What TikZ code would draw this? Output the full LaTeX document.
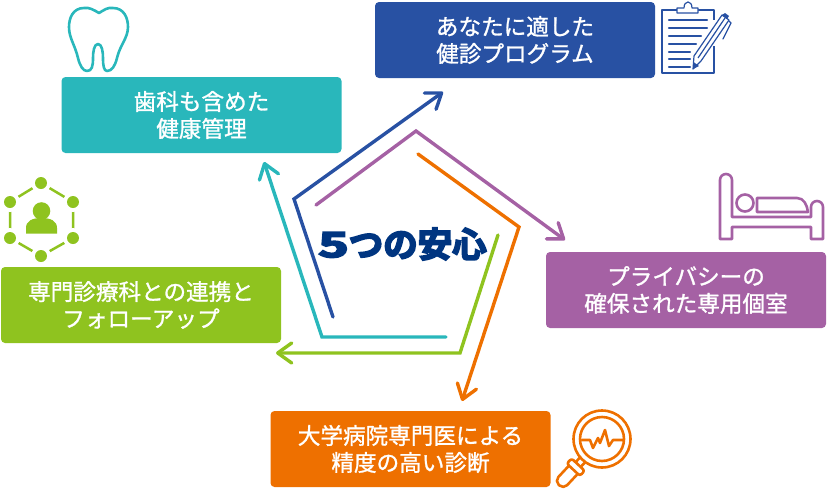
\documentclass[tikz,border=0pt]{standalone}
\usepackage{fontspec}
\setmainfont{Noto Sans CJK JP}
\newfontfamily\boxfont[FakeBold=1.2]{Noto Sans CJK JP}
\newfontfamily\titlefont[FakeBold=5]{Noto Sans CJK JP Bold}
\usetikzlibrary{arrows.meta}
\definecolor{tealc}{HTML}{29B7BB}
\definecolor{bluec}{HTML}{2851A3}
\definecolor{purplec}{HTML}{A561A4}
\definecolor{greenc}{HTML}{8FC31F}
\definecolor{orangec}{HTML}{EE7000}
\definecolor{navyc}{HTML}{003580}
\tikzset{
  box/.style={fill=#1, text=white, rounded corners=4pt, minimum width=280pt, minimum height=76pt,
    align=center, inner sep=0pt, font=\boxfont\fontsize{22.6}{27}\selectfont},
  line/.style={draw=#1, line width=3.4pt, line cap=round, line join=miter},
  arrowline/.style={line=#1, -{Straight Barb[length=14pt,width=20pt,line width=3.4pt,round]}},
  icon/.style={draw=#1, line width=2.6pt, line join=round, line cap=round},
}
\begin{document}
\begin{tikzpicture}[x=1pt,y=-1pt]
  \useasboundingbox (0,0) rectangle (827,490);

  % The five boxes
  \node[box=bluec] (program) at (515,40) {あなたに適した\\健診プログラム};
  \node[box=tealc] (dental) at (201.5,115) {歯科も含めた\\健康管理};
  \node[box=purplec] (privacy) at (686,290) {プライバシーの\\確保された専用個室};
  \node[box=greenc] (followup) at (141,305) {専門診療科との連携と\\フォローアップ};
  \node[box=orangec] (exam) at (410.5,449) {大学病院専門医による\\精度の高い診断};

  % Corners of the pentagon
  \coordinate (blueStart) at (333,317);
  \coordinate (blueCorner) at (294,199);
  \coordinate (blueEnd) at (443,92);
  \coordinate (purpleStart) at (316,205);
  \coordinate (purpleCorner) at (416,131);
  \coordinate (purpleEnd) at (565,240);
  \coordinate (orangeStart) at (418,154);
  \coordinate (orangeCorner) at (519,227);
  \coordinate (orangeEnd) at (462,401);
  \coordinate (greenStart) at (498,235);
  \coordinate (greenCorner) at (460,353);
  \coordinate (greenEnd) at (276,353);
  \coordinate (tealStart) at (446,337);
  \coordinate (tealCorner) at (322,337);
  \coordinate (tealEnd) at (264,162);

  % The arrows
  \draw[arrowline=bluec] (blueStart) -- (blueCorner) -- (blueEnd);
  \draw[arrowline=purplec] (purpleStart) -- (purpleCorner) -- (purpleEnd);
  \draw[arrowline=orangec] (orangeStart) -- (orangeCorner) -- (orangeEnd);
  \draw[arrowline=greenc] (greenStart) -- (greenCorner) -- (greenEnd);
  \draw[arrowline=tealc] (tealStart) -- (tealCorner) -- (tealEnd);

  \node[text=navyc, inner sep=0pt] (title) at (402.5,244)
    {\titlefont\fontsize{34.5}{34.5}\selectfont\scalebox{1.5}[1]{5}つの安心};

  % Tooth
  \draw[icon=tealc] (99,13) .. controls (94,10) and (89,7) .. (84,8)
    .. controls (73,8) and (69,18) .. (69,27)
    .. controls (69,38) and (75,45) .. (78,58)
    .. controls (80,66) and (83,71) .. (87,71)
    .. controls (92,71) and (93,66) .. (93,58)
    .. controls (93,52) and (94,44) .. (98,44)
    .. controls (102,44) and (103,52) .. (103,58)
    .. controls (103,66) and (104,71) .. (107,71)
    .. controls (112,71) and (115,66) .. (117,58)
    .. controls (120,45) and (128,38) .. (128,27)
    .. controls (128,18) and (124,8) .. (113,8)
    .. controls (108,7) and (104,10) .. (99,13) -- cycle;

  % People network
  \draw[greenc, line width=2.5pt] (41,183) -- (73,202) -- (73,238) -- (41,256) -- (10,238) -- (10,202) -- cycle;
  \foreach \px/\py in {41/183,73/202,73/238,41/256,10/238,10/202}
    \fill[white] (\px,\py) circle (10);
  \foreach \px/\py in {41/183,73/202,73/238,41/256,10/238,10/202}
    \fill[greenc] (\px,\py) circle (6);
  \fill[greenc] (41.5,211) circle (8.8);
  \fill[greenc] (26,233.5) -- (26,228) .. controls (26,221) and (32,218) .. (41.5,218)
    .. controls (51,218) and (57,221) .. (57,228) -- (57,233.5) -- cycle;

  % Clipboard
  \draw[bluec, line width=1.2pt, line join=round] (677,10) -- (662,10) -- (662,73) -- (714,73) -- (714,46)
    (698,10) -- (714,10) -- (714,20);
  \draw[bluec, line width=1.2pt, fill=white, line join=round] (677,13) -- (677,8) -- (684,8)
    .. controls (684,0) and (692,0) .. (692,8) -- (698,8) -- (698,13) -- cycle;
  \foreach \ly/\lx in {20/707,28/707,36/701,44/696,52/690,59/690,67/690}
    \draw[bluec, line width=2.4pt, line cap=round] (669,\ly) -- (\lx,\ly);
  \draw[bluec, line width=1.2pt, fill=white, line join=round] (693,69) -- (694,56) -- (722,15) -- (729,20) -- (701,61) -- cycle;
  \draw[bluec, line width=1.2pt] (698,58) -- (725,18);
  \fill[bluec] (693,69) -- (693.5,62) -- (699,66) -- cycle;
  \fill[bluec] (722,15) -- (725,13) -- (729,16) -- (727,19) -- cycle;
  \draw[bluec, line width=1.2pt, line cap=round] (729,21) -- (731,23) -- (723,39);

  % Bed
  \draw[icon=purplec] (720,239) -- (720,180) arc[start angle=180, end angle=360, radius=6] -- (732,217)
    -- (811,217) -- (811,207) arc[start angle=180, end angle=360, radius=6] -- (823,239)
    -- (811,239) -- (811,227) -- (732,227) -- (732,239) -- cycle;
  \draw[icon=purplec] (745,203) circle (8.5);
  \draw[icon=purplec] (757,198) -- (797,198) .. controls (804,198) and (807,205) .. (808,212) -- (757,212) -- cycle;

  % Magnifying glass
  \draw[icon=orangec] (602,439) circle (28.5);
  \draw[icon=orangec] (602,439) circle (22);
  \draw[icon=orangec] (582,440) -- (590,440) -- (593,448) -- (598,438) -- (600,443) -- (605,430) -- (609,446) -- (613,440) -- (623,440);
  \begin{scope}[shift={(602,439)}, rotate=227]
    \draw[icon=orangec] (29,3.5) -- (35,3.5) (29,-3.5) -- (35,-3.5);
    \draw[icon=orangec, fill=white, rounded corners=2.5pt] (35,-9) rectangle (42,9);
    \draw[icon=orangec, rounded corners=5.5pt] (42,-6) -- (63,-6) -- (63,6) -- (42,6);
  \end{scope}
\end{tikzpicture}
\end{document}
